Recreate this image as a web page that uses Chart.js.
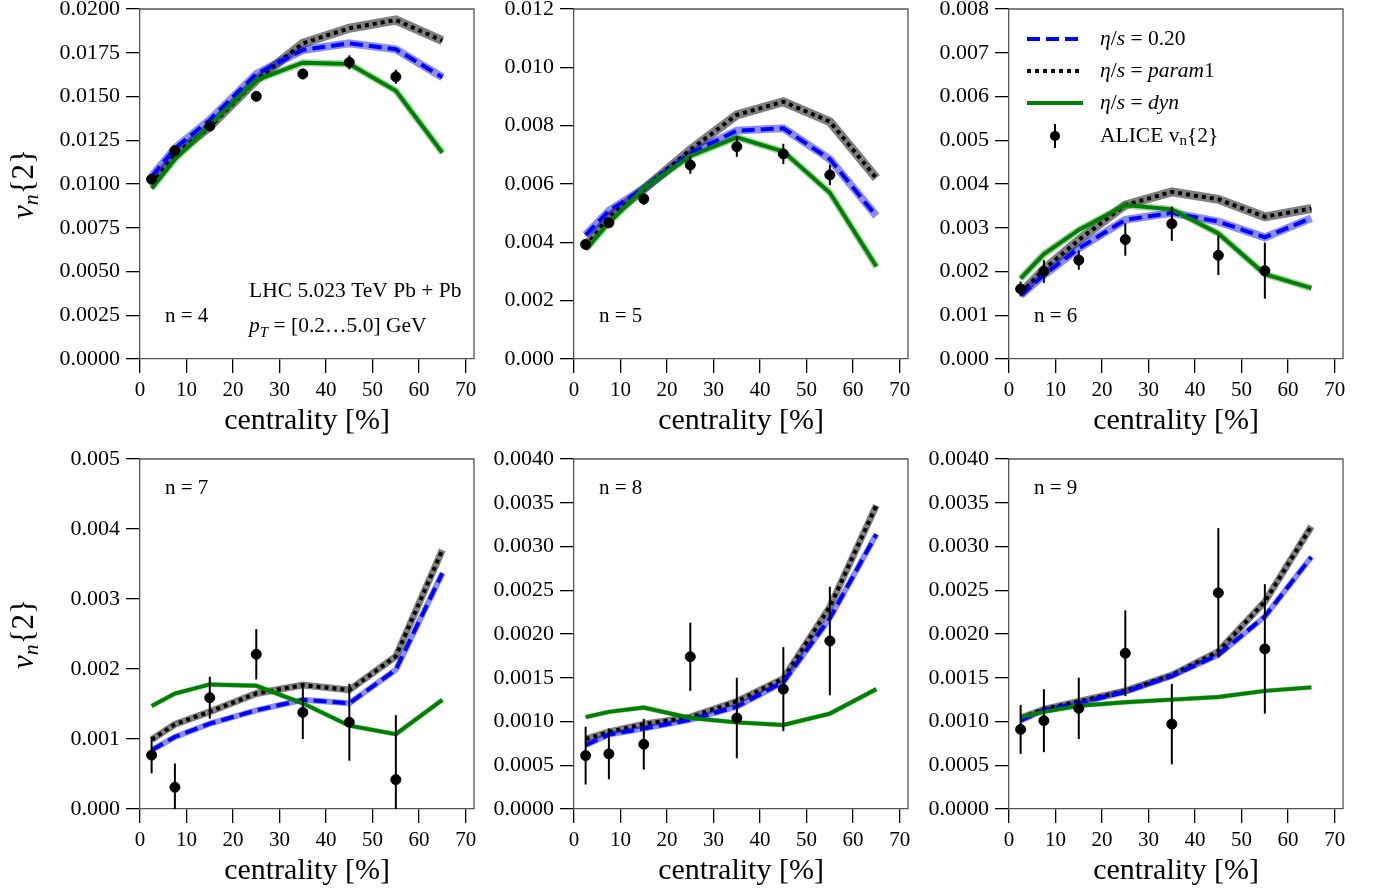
<!DOCTYPE html>
<html>
<head>
<meta charset="utf-8">
<script src="https://cdn.jsdelivr.net/npm/chart.js@4.4.1/dist/chart.umd.min.js"></script>
<style>
body { margin: 0; background: #fff; width: 1376px; height: 890px; position: relative; overflow: hidden; }
canvas { position: absolute; }
</style>
</head>
<body>
<canvas id="c4" width="480" height="442" style="left:0;top:0"></canvas>
<canvas id="c5" width="480" height="442" style="left:434px;top:0"></canvas>
<canvas id="c6" width="480" height="442" style="left:869px;top:0"></canvas>
<canvas id="c7" width="480" height="440" style="left:0;top:450px"></canvas>
<canvas id="c8" width="480" height="440" style="left:434px;top:450px"></canvas>
<canvas id="c9" width="480" height="440" style="left:869px;top:450px"></canvas>
<script>
// centrality bins
const centLines = [2.5, 7.5, 15, 25, 35, 45, 55, 65];
const centAlice = [2.5, 7.5, 15, 25, 35, 45, 55];
const xTicks = [0, 10, 20, 30, 40, 50, 60, 70];

// n = 4
const v4_020   = [0.01042, 0.01204, 0.01366, 0.01629, 0.01766, 0.01804, 0.01770, 0.01610];
const v4_param = [0.01000, 0.01166, 0.01327, 0.01594, 0.01804, 0.01890, 0.01937, 0.01819];
const v4_dyn   = [0.00975, 0.01141, 0.01337, 0.01594, 0.01693, 0.01686, 0.01533, 0.01179];
const a4 = [0.01027, 0.01190, 0.01331, 0.01501, 0.01629, 0.01695, 0.01613];
const e4 = [0.0002, 0.0002, 0.0002, 0.0003, 0.0003, 0.0004, 0.0004];
// n = 5
const v5_020   = [0.00425, 0.00508, 0.00585, 0.00705, 0.00783, 0.00791, 0.00685, 0.00490];
const v5_param = [0.00385, 0.00488, 0.00582, 0.00717, 0.00837, 0.00882, 0.00814, 0.00620];
const v5_dyn   = [0.00376, 0.00467, 0.00585, 0.00696, 0.00760, 0.00711, 0.00570, 0.00317];
const a5 = [0.00393, 0.00467, 0.00549, 0.00665, 0.00728, 0.00703, 0.00631];
const e5 = [0.0001, 0.00015, 0.0002, 0.0003, 0.00035, 0.00035, 0.00035];
// n = 6
const v6_020   = [0.00146, 0.00192, 0.00253, 0.00318, 0.00334, 0.00314, 0.00278, 0.00322];
const v6_param = [0.00150, 0.00205, 0.00272, 0.00352, 0.00382, 0.00365, 0.00325, 0.00344];
const v6_dyn   = [0.00184, 0.00240, 0.00295, 0.00352, 0.00342, 0.00287, 0.00194, 0.00162];
const a6 = [0.00160, 0.00200, 0.00226, 0.00273, 0.00309, 0.00237, 0.00202];
const e6 = [0.00017, 0.00026, 0.00022, 0.00037, 0.00039, 0.00045, 0.00064];
// n = 7
const v7_020   = [0.00084, 0.00103, 0.00122, 0.00141, 0.00156, 0.00151, 0.00199, 0.00337];
const v7_param = [0.00099, 0.00121, 0.00139, 0.00165, 0.00177, 0.00170, 0.00218, 0.00370];
const v7_dyn   = [0.00147, 0.00165, 0.00178, 0.00176, 0.00151, 0.00119, 0.00107, 0.00156];
const a7 = [0.00077, 0.00031, 0.00159, 0.00221, 0.00138, 0.00124, 0.00042];
const e7 = [0.00026, 0.00034, 0.00030, 0.00036, 0.00038, 0.00055, 0.00092];
// n = 8
const v8_020   = [0.00073, 0.00085, 0.00092, 0.00102, 0.00117, 0.00145, 0.00218, 0.00314];
const v8_param = [0.00080, 0.00088, 0.00097, 0.00105, 0.00123, 0.00149, 0.00231, 0.00347];
const v8_dyn   = [0.00105, 0.00111, 0.00116, 0.00104, 0.00099, 0.00096, 0.00109, 0.00137];
const a8 = [0.00061, 0.00063, 0.00074, 0.00174, 0.00104, 0.00137, 0.00192];
const e8 = [0.00033, 0.00029, 0.00029, 0.00039, 0.00046, 0.00048, 0.00062];
// n = 9
const v9_020   = [0.00101, 0.00113, 0.00121, 0.00134, 0.00152, 0.00176, 0.00220, 0.00288];
const v9_param = [0.00104, 0.00114, 0.00123, 0.00135, 0.00153, 0.00180, 0.00237, 0.00323];
const v9_dyn   = [0.00105, 0.00111, 0.00118, 0.00122, 0.00125, 0.00128, 0.00135, 0.00139];
const a9 = [0.00091, 0.00101, 0.00115, 0.00178, 0.00097, 0.00247, 0.00183];
const e9 = [0.00028, 0.00036, 0.00035, 0.00049, 0.00046, 0.00074, 0.00074];

const SERIF = "'Liberation Serif', 'Times New Roman', serif";
const BLUE = '#0000ff', GREEN = '#008000';

function pts(xs, ys) {
    return xs.map(function(x, i) { return {x: x, y: ys[i]}; });
}

// draw a run of text pieces: [text, italic, sub]
function rich(ctx, x, y, parts, size, dry) {
    let cx = x;
    parts.forEach(function(p) {
        const fs = p[2] ? size * 0.7 : size;
        ctx.font = (p[1] ? 'italic ' : '') + fs + 'px ' + SERIF;
        if (!dry) ctx.fillText(p[0], cx, p[2] ? y + size * 0.22 : y);
        cx += ctx.measureText(p[0]).width;
    });
    return cx - x;
}

const etaS = [['η', true], ['/', false], ['s', true], [' = ', false]];
const legendItems = [
    {color: BLUE, dash: [13, 6], text: etaS.concat([['0.20', false]])},
    {color: '#000', dash: [4, 4], text: etaS.concat([['param', true], ['1', false]])},
    {color: GREEN, dash: [], text: etaS.concat([['dyn', true]])},
    {marker: true, text: [['ALICE v', false], ['n', false, true], ['{2}', false]]}
];

function decor(p) {
    return {
        id: 'decor' + p.n,
        afterDatasetsDraw: function(chart) {
            const ctx = chart.ctx, xs = chart.scales.x, ys = chart.scales.y, ca = chart.chartArea;
            ctx.save();
            ctx.beginPath();
            ctx.rect(ca.left, ca.top, ca.right - ca.left, ca.bottom - ca.top);
            ctx.clip();
            ctx.strokeStyle = '#000';
            ctx.lineWidth = 2;
            p.alice.forEach(function(v, i) {
                const x = xs.getPixelForValue(centAlice[i]);
                ctx.beginPath();
                ctx.moveTo(x, ys.getPixelForValue(v - p.err[i]));
                ctx.lineTo(x, ys.getPixelForValue(v + p.err[i]));
                ctx.stroke();
            });
            ctx.restore();
        },
        afterDraw: function(chart) {
            const ctx = chart.ctx, ca = chart.chartArea;
            ctx.save();
            // top and right spines
            ctx.strokeStyle = '#555';
            ctx.lineWidth = 1.3;
            ctx.beginPath();
            ctx.moveTo(ca.left, ca.top);
            ctx.lineTo(ca.right, ca.top);
            ctx.lineTo(ca.right, ca.bottom);
            ctx.stroke();

            ctx.fillStyle = '#000';
            ctx.textBaseline = 'alphabetic';
            ctx.textAlign = 'left';
            const ny = p.nTop ? ca.top + 35 : ca.bottom - 37;
            rich(ctx, ca.left + 25, ny, [['n = ' + p.n, false]], 21);

            if (p.lhc) {
                rich(ctx, ca.left + 109, ca.bottom - 62, [['LHC 5.023 TeV Pb + Pb', false]], 21.5);
                rich(ctx, ca.left + 109, ca.bottom - 27,
                    [['p', true], ['T', true, true], [' = [0.2…5.0] GeV', false]], 21.5);
            }

            if (p.left) {
                ctx.save();
                ctx.translate(25, (ca.top + ca.bottom) / 2);
                ctx.rotate(-Math.PI / 2);
                const parts = [['v', true], ['n', true, true], ['{2}', false]];
                const w = rich(ctx, 0, 0, parts, 31, true);
                ctx.textBaseline = 'middle';
                rich(ctx, -w / 2, 0, parts, 31);
                ctx.restore();
            }

            if (p.legend) {
                const rows = [30, 62, 94, 127];
                legendItems.forEach(function(it, i) {
                    const y = ca.top + rows[i];
                    if (it.marker) {
                        ctx.strokeStyle = '#000';
                        ctx.lineWidth = 2;
                        ctx.beginPath();
                        ctx.moveTo(ca.left + 46, y - 12);
                        ctx.lineTo(ca.left + 46, y + 12);
                        ctx.stroke();
                        ctx.beginPath();
                        ctx.arc(ca.left + 46, y, 5, 0, Math.PI * 2);
                        ctx.fill();
                    } else {
                        ctx.strokeStyle = it.color;
                        ctx.lineWidth = 4;
                        ctx.setLineDash(it.dash);
                        ctx.beginPath();
                        ctx.moveTo(ca.left + 18, y);
                        ctx.lineTo(ca.left + 74, y);
                        ctx.stroke();
                        ctx.setLineDash([]);
                    }
                    ctx.textBaseline = 'middle';
                    rich(ctx, ca.left + 91, y, it.text, 21.5);
                });
            }
            ctx.restore();
        }
    };
}

function makePanel(id, p) {
    const bw = p.nTop ? 7 : 9;
    const gw = p.nTop ? 5 : 7;
    const line = function(vals, color, dash, width, order) {
        return {
            data: pts(centLines, vals), borderColor: color, borderDash: dash,
            borderWidth: width, pointRadius: 0, tension: 0, fill: false,
            borderCapStyle: 'butt', order: order
        };
    };
    new Chart(document.getElementById(id), {
        type: 'line',
        data: {
            datasets: [
                {data: pts(centAlice, p.alice), showLine: false, pointRadius: 5,
                 backgroundColor: '#000', borderColor: '#000', order: 0},
                line(p.dyn, GREEN, [], 4, 1),
                line(p.v020, BLUE, [13, 6], 4, 2),
                line(p.param, '#000', [4, 4], 4, 3),
                line(p.dyn, 'rgba(0,128,0,0.35)', [], gw, 4),
                line(p.v020, 'rgba(0,0,255,0.45)', [], bw - 1, 5),
                line(p.param, 'rgba(0,0,0,0.5)', [], bw, 6)
            ]
        },
        options: {
            responsive: false,
            animation: false,
            events: [],
            layout: {padding: {top: 9, right: 3, left: 0, bottom: 0}},
            plugins: {legend: {display: false}, tooltip: {enabled: false}},
            scales: {
                x: {
                    type: 'linear', min: 0, max: 71.8, offset: false,
                    afterBuildTicks: function(s) { s.ticks = xTicks.map(function(v) { return {value: v}; }); },
                    afterFit: function(s) { s.height = p.nTop ? 81 : 83; s.paddingLeft = 0; s.paddingRight = 0; },
                    grid: {drawOnChartArea: false, tickLength: 14, color: '#000', lineWidth: 1.3},
                    border: {color: '#555', width: 1.3},
                    ticks: {color: '#000', padding: 5, maxRotation: 0, font: {family: SERIF, size: 21}},
                    title: {display: true, text: 'centrality [%]', color: '#000',
                            font: {family: SERIF, size: 30}, padding: {top: 0, bottom: p.nTop ? 1 : 3}}
                },
                y: {
                    type: 'linear', min: 0, max: p.ymax,
                    afterBuildTicks: function(s) { s.ticks = p.yTicks.map(function(v) { return {value: v}; }); },
                    afterFit: function(s) { s.width = 140; s.paddingTop = 0; s.paddingBottom = 0; },
                    grid: {drawOnChartArea: false, tickLength: 14, color: '#000', lineWidth: 1.3},
                    border: {color: '#555', width: 1.3},
                    ticks: {color: '#000', padding: 6, font: {family: SERIF, size: 22},
                            callback: function(v) { return v.toFixed(p.dec); }}
                }
            }
        },
        plugins: [decor(p)]
    });
}

function range(step, count) {
    const out = [];
    for (let i = 0; i <= count; i++) out.push(step * i);
    return out;
}

makePanel('c4', {n: 4, ymax: 0.02, yTicks: range(0.0025, 8), dec: 4, v020: v4_020, param: v4_param, dyn: v4_dyn,
    alice: a4, err: e4, left: true, lhc: true});
makePanel('c5', {n: 5, ymax: 0.012, yTicks: range(0.002, 6), dec: 3, v020: v5_020, param: v5_param, dyn: v5_dyn,
    alice: a5, err: e5});
makePanel('c6', {n: 6, ymax: 0.008, yTicks: range(0.001, 8), dec: 3, v020: v6_020, param: v6_param, dyn: v6_dyn,
    alice: a6, err: e6, legend: true});
makePanel('c7', {n: 7, ymax: 0.005, yTicks: range(0.001, 5), dec: 3, v020: v7_020, param: v7_param, dyn: v7_dyn,
    alice: a7, err: e7, left: true, nTop: true});
makePanel('c8', {n: 8, ymax: 0.004, yTicks: range(0.0005, 8), dec: 4, v020: v8_020, param: v8_param, dyn: v8_dyn,
    alice: a8, err: e8, nTop: true});
makePanel('c9', {n: 9, ymax: 0.004, yTicks: range(0.0005, 8), dec: 4, v020: v9_020, param: v9_param, dyn: v9_dyn,
    alice: a9, err: e9, nTop: true});
</script>
</body>
</html>
